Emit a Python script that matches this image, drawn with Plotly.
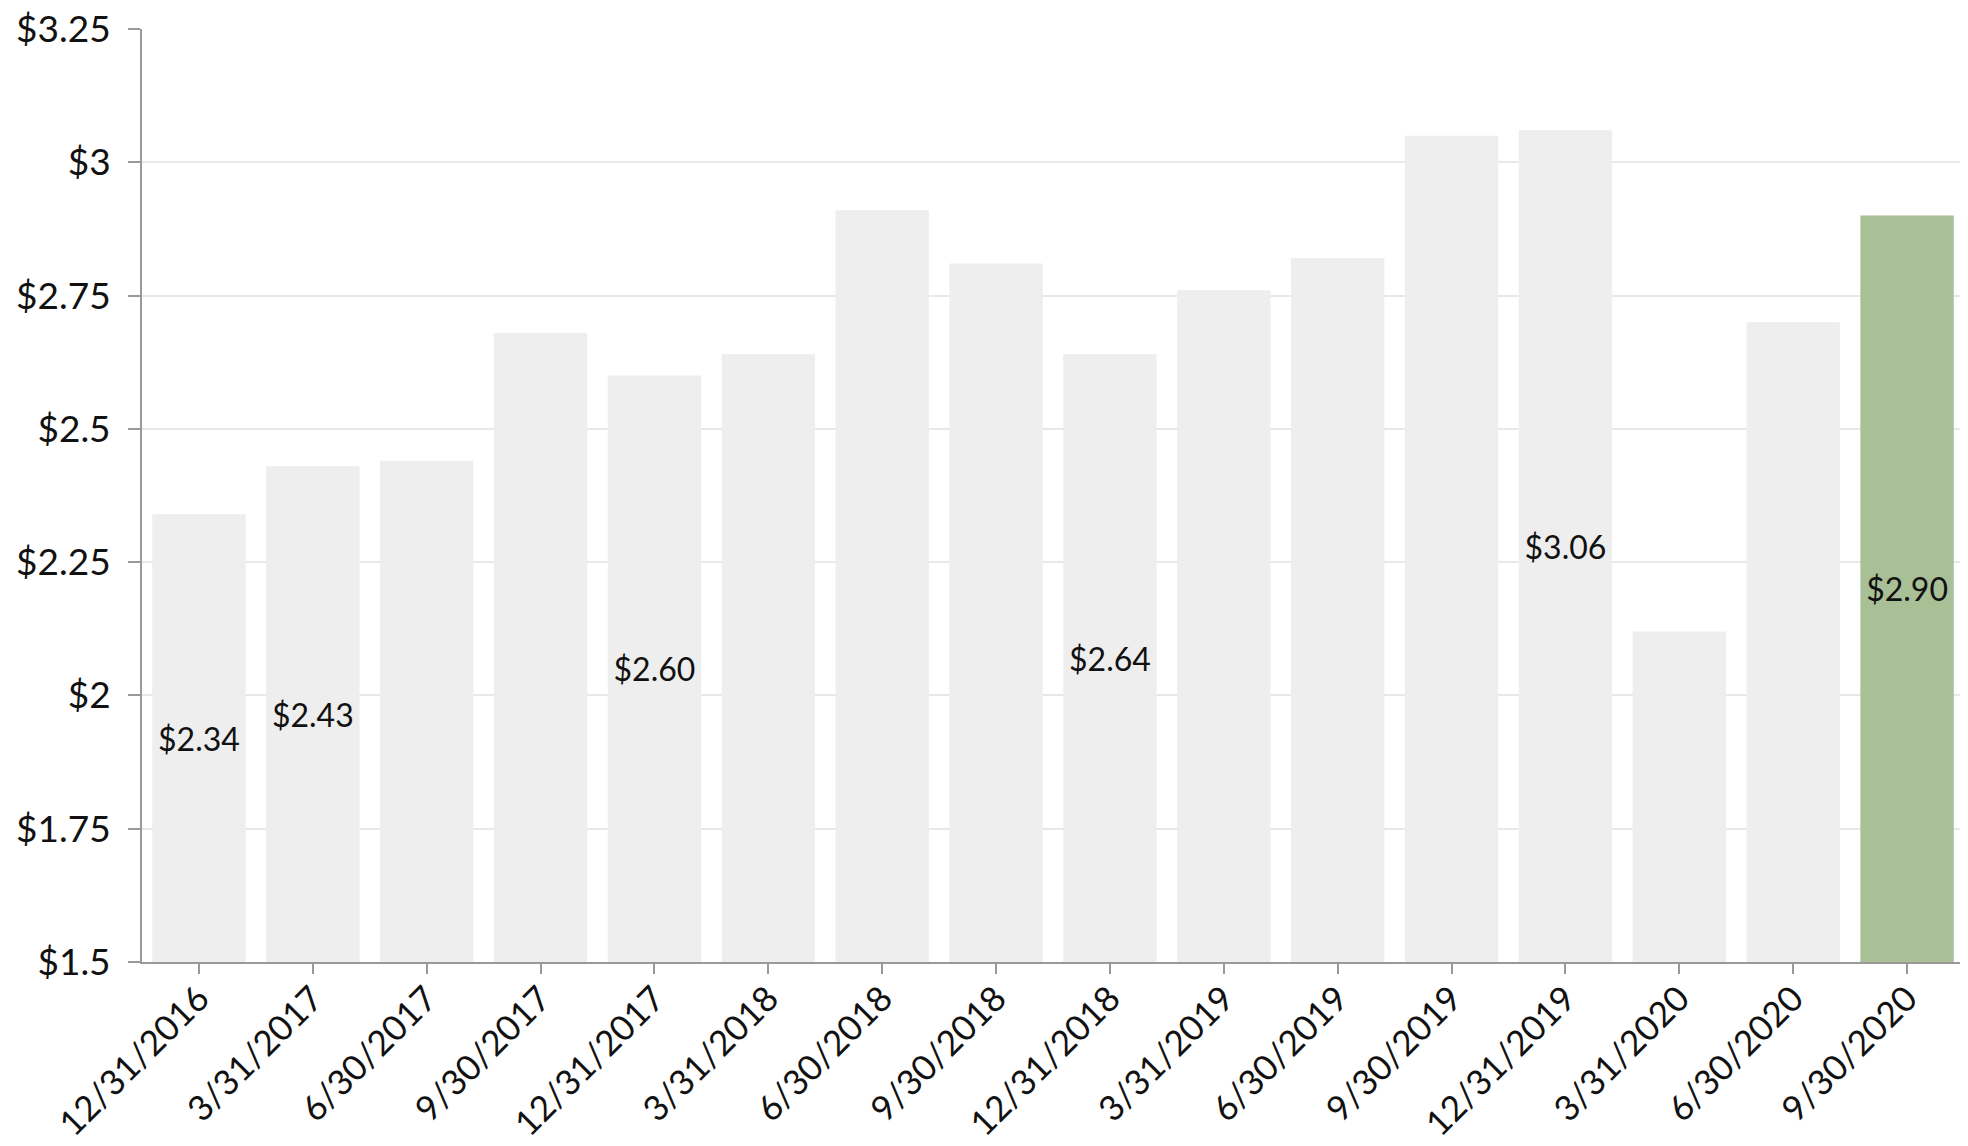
import plotly.graph_objects as go

dates = ["12/31/2016", "3/31/2017", "6/30/2017", "9/30/2017", "12/31/2017",
         "3/31/2018", "6/30/2018", "9/30/2018", "12/31/2018", "3/31/2019",
         "6/30/2019", "9/30/2019", "12/31/2019", "3/31/2020", "6/30/2020",
         "9/30/2020"]
values = [2.34, 2.43, 2.44, 2.68, 2.60, 2.64, 2.91, 2.81, 2.64, 2.76,
          2.82, 3.05, 3.06, 2.12, 2.70, 2.90]
labeled = ["12/31/2016", "3/31/2017", "12/31/2017", "12/31/2018", "12/31/2019", "9/30/2020"]
highlight = "9/30/2020"
axis_min = 1.5
axis_max = 3.25

colors = ["#a9c097" if d == highlight else "#eeeeee" for d in dates]
texts = [f"${v:.2f}" if d in labeled else "" for d, v in zip(dates, values)]

fig = go.Figure(go.Bar(
    x=dates, y=[v - axis_min for v in values], base=axis_min,
    marker_color=colors, marker_line_width=0,
    text=texts, textposition="inside", insidetextanchor="middle",
    textangle=0,
    textfont=dict(family="Lato", size=32, color="#111111"),
    customdata=values, hovertemplate="%{x}: $%{customdata:.2f}<extra></extra>",
))

fig.update_layout(
    width=1960, height=1138,
    margin=dict(l=134, r=4, t=21, b=184),
    plot_bgcolor="white", paper_bgcolor="white",
    font=dict(family="Lato", size=36, color="#111111"),
    bargap=0.18, showlegend=False,
    uniformtext=dict(minsize=10, mode="show"),
)
fig.update_xaxes(
    type="category", tickangle=-45, showline=True, linecolor="#999999", linewidth=2,
    ticks="outside", ticklen=10, tickwidth=2, tickcolor="#999999",
    tickfont=dict(family="Lato", size=35), ticklabelstandoff=-10,
    ticklabeloverflow="allow", automargin=False,
)
fig.update_yaxes(
    range=[axis_min, axis_max], dtick=0.25, tick0=axis_min, tickprefix="$",
    showline=True, linecolor="#999999", linewidth=2,
    ticks="outside", ticklen=12, tickwidth=2, tickcolor="#999999",
    showgrid=True, gridcolor="#e8e8e8", gridwidth=2, zeroline=False,
    tickfont=dict(family="Lato", size=37), ticklabelstandoff=10,
    ticklabeloverflow="allow", automargin=False,
)

fig.write_html("out.html")
